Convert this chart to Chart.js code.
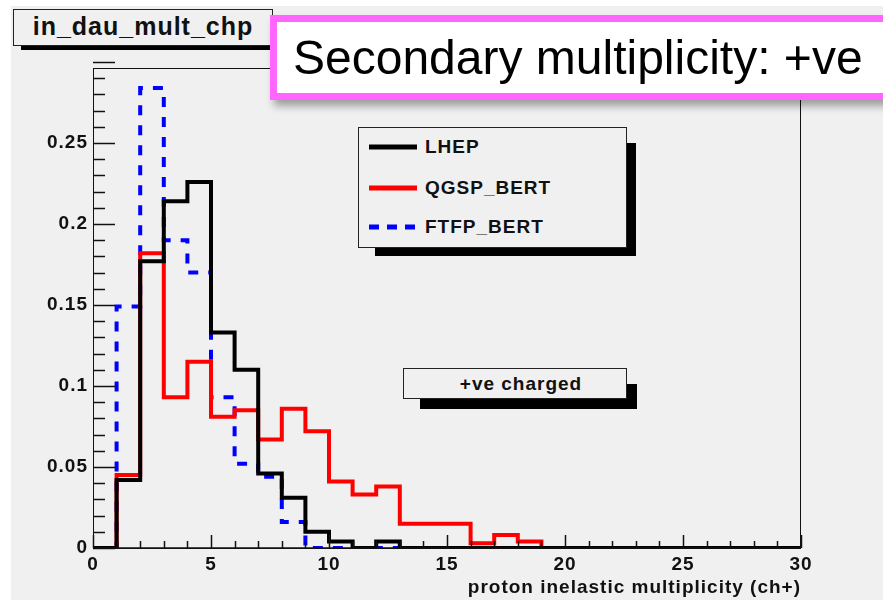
<!DOCTYPE html>
<html><head><meta charset="utf-8">
<script src="https://cdn.jsdelivr.net/npm/chart.js@4.4.1/dist/chart.umd.min.js"></script>
<style>
html,body{margin:0;padding:0;background:#fff;width:883px;height:603px;overflow:hidden;font-family:Arial,"Liberation Sans",sans-serif;}
#pad{position:absolute;left:11px;top:6px;width:872px;height:594px;background:#f0f0f0;}
#c{position:absolute;left:0;top:0;}
.shadow{position:absolute;background:#000;}
.rbox{position:absolute;box-sizing:border-box;border:1px solid #222;background:#f0f0f0;}
.rtxt{position:absolute;font-weight:bold;color:#111;letter-spacing:1px;white-space:nowrap;}
#sec{position:absolute;left:270px;top:15px;width:640px;height:85px;box-sizing:border-box;border:7px solid #ff66ff;background:#fff;box-shadow:4px 6px 8px rgba(0,0,0,0.35);}
#sec span{position:absolute;left:16px;top:12px;font-size:48px;line-height:48px;color:#000;white-space:nowrap;}
</style></head>
<body>
<div id="pad"></div>
<canvas id="c" width="883" height="603"></canvas>

<!-- title box -->
<div class="shadow" style="left:21px;top:17px;width:258px;height:33px;"></div>
<div class="rbox" style="left:13px;top:9px;width:260px;height:37px;"></div>
<div class="rtxt" id="ttl" style="left:13px;top:9px;width:260px;text-align:center;font-size:25px;line-height:35px;"></div>

<!-- legend -->
<div class="shadow" style="left:375px;top:143px;width:261px;height:113px;"></div>
<div class="rbox" id="leg" style="left:358px;top:127px;width:269px;height:121px;"></div>

<!-- +ve charged -->
<div class="shadow" style="left:420px;top:384px;width:217px;height:25px;"></div>
<div class="rbox" style="left:403px;top:368px;width:224px;height:31px;"></div>
<div class="rtxt" id="lbl" style="left:403px;top:368px;width:236px;text-align:center;font-size:19px;line-height:31px;"></div>

<div id="sec"><span id="sectxt"></span></div>

<script>
// ---- data ----
const histTitle = "in_dau_mult_chp";
const overlayTitle = "Secondary multiplicity: +ve";
const boxLabel = "+ve charged";
const xTitle = "proton inelastic multiplicity (ch+)";
const binEdges = [0,1,2,3,4,5,6,7,8,9,10,11,12,13,14,15,16,17,18,19,20,21,22,23,24,25,26,27,28,29,30];
const seriesNames = ["LHEP", "QGSP_BERT", "FTFP_BERT"];
const lhep = [0, 0.042, 0.177, 0.214, 0.226, 0.133, 0.110, 0.046, 0.031, 0.010, 0.004, 0, 0.004, 0, 0, 0, 0, 0, 0, 0, 0, 0, 0, 0, 0, 0, 0, 0, 0, 0];
const qgsp = [0, 0.045, 0.182, 0.093, 0.115, 0.081, 0.085, 0.067, 0.086, 0.072, 0.041, 0.033, 0.038, 0.015, 0.015, 0.015, 0.003, 0.008, 0.004, 0, 0, 0, 0, 0, 0, 0, 0, 0, 0, 0];
const ftfp = [0, 0.149, 0.284, 0.190, 0.170, 0.093, 0.052, 0.044, 0.016, 0, 0, 0, 0, 0, 0, 0, 0, 0, 0, 0, 0, 0, 0, 0, 0, 0, 0, 0, 0, 0];
const xTickValues = [0, 5, 10, 15, 20, 25, 30];
const xTickLabels = ["0", "5", "10", "15", "20", "25", "30"];
const yTickValues = [0, 0.05, 0.1, 0.15, 0.2, 0.25];
const yTickLabels = ["0", "0.05", "0.1", "0.15", "0.2", "0.25"];
const xMinorStep = 1, yMinorStep = 0.01;
const yMax = 0.2963;

// ---- texts ----
document.getElementById('ttl').textContent = histTitle;
document.getElementById('lbl').textContent = boxLabel;
document.getElementById('sectxt').textContent = overlayTitle;

const colors = ["#000000", "#ff0000", "#0000ff"];
const dashes = [[], [], [10, 10]];
const series = [lhep, qgsp, ftfp];

// legend (HTML)
const leg = document.getElementById('leg');
const legRowY = [19, 60, 99];
seriesNames.forEach((n, i) => {
  const svgNS = "http://www.w3.org/2000/svg";
  const svg = document.createElementNS(svgNS, "svg");
  svg.setAttribute("width", "50"); svg.setAttribute("height", "8");
  svg.style.position = "absolute"; svg.style.left = "10px"; svg.style.top = (legRowY[i] - 4) + "px";
  const ln = document.createElementNS(svgNS, "line");
  ln.setAttribute("x1", "0"); ln.setAttribute("x2", "48"); ln.setAttribute("y1", "4"); ln.setAttribute("y2", "4");
  ln.setAttribute("stroke", colors[i]); ln.setAttribute("stroke-width", "5");
  if (dashes[i].length) ln.setAttribute("stroke-dasharray", "10,8");
  svg.appendChild(ln); leg.appendChild(svg);
  const t = document.createElement('div');
  t.className = 'rtxt'; t.textContent = n;
  t.style.left = "66px"; t.style.top = (legRowY[i] - 12) + "px"; t.style.fontSize = "19px"; t.style.lineHeight = "24px";
  leg.appendChild(t);
});

function toPoints(vals) {
  return binEdges.map((e, i) => ({ x: e, y: vals[Math.min(i, vals.length - 1)] }));
}

const frameTicks = {
  id: 'frameTicks',
  beforeDraw(chart) { chart.ctx.letterSpacing = '1px'; },
  afterDatasetsDraw(chart) {
    const { ctx, chartArea: a, scales: { x, y } } = chart;
    ctx.save();
    ctx.strokeStyle = '#111';
    ctx.lineWidth = 1;
    ctx.strokeRect(a.left + 0.5, a.top + 0.5, a.right - a.left - 1, a.bottom - a.top);
    ctx.lineWidth = 1.5;
    ctx.beginPath();
    const nY = Math.round(yMax / yMinorStep);
    for (let k = 0; k <= nY; k++) {
      const v = k * yMinorStep;
      const py = Math.round(y.getPixelForValue(v)) + 0.5;
      const len = (k % 5 === 0) ? 22 : 12;
      ctx.moveTo(a.left, py); ctx.lineTo(a.left + len, py);
    }
    const nX = Math.round((binEdges[binEdges.length - 1] - binEdges[0]) / xMinorStep);
    for (let k = 0; k <= nX; k++) {
      const v = binEdges[0] + k * xMinorStep;
      const px = Math.round(x.getPixelForValue(v)) + 0.5;
      const len = (k % 5 === 0) ? 13 : 7;
      ctx.moveTo(px, a.bottom); ctx.lineTo(px, a.bottom - len);
    }
    ctx.stroke();
    ctx.lineWidth = 1.5;
    ctx.beginPath();
    ctx.moveTo(a.left, a.bottom); ctx.lineTo(a.right, a.bottom);
    ctx.stroke();
    ctx.restore();
  }
};

const tickFont = { family: 'Arial, "Liberation Sans", sans-serif', size: 19, weight: 'bold' };

new Chart(document.getElementById('c'), {
  type: 'line',
  data: {
    datasets: seriesNames.map((n, i) => ({
      label: n,
      data: toPoints(series[i]),
      borderColor: colors[i],
      borderWidth: 4,
      borderDash: dashes[i],
      borderCapStyle: 'butt',
      borderJoinStyle: 'miter',
      stepped: 'before',
      pointRadius: 0,
      fill: false,
      tension: 0
    }))
  },
  options: {
    responsive: false,
    animation: false,
    events: [],
    layout: { padding: { left: 0, right: 82, top: 68, bottom: 0 } },
    plugins: { legend: { display: false }, tooltip: { enabled: false }, title: { display: false } },
    scales: {
      x: {
        type: 'linear', min: binEdges[0], max: binEdges[binEdges.length - 1],
        grid: { display: false }, border: { display: false },
        afterBuildTicks: s => { s.ticks = xTickValues.map(v => ({ value: v })); },
        afterFit: s => { s.height = 55; },
        ticks: { autoSkip: false, maxRotation: 0, minRotation: 0, padding: -3, color: '#111', font: tickFont,
          callback: (v, i) => xTickLabels[i] },
        title: { display: true, text: xTitle, align: 'end', color: '#111', font: tickFont, padding: { top: 0, bottom: 4 } }
      },
      y: {
        type: 'linear', min: 0, max: yMax,
        grid: { display: false }, border: { display: false },
        afterBuildTicks: s => { s.ticks = yTickValues.map(v => ({ value: v })); },
        afterFit: s => { s.width = 93; },
        ticks: { autoSkip: false, padding: -3, color: '#111', font: tickFont,
          callback: (v, i) => yTickLabels[i] }
      }
    }
  },
  plugins: [frameTicks]
});
</script>
</body></html>
